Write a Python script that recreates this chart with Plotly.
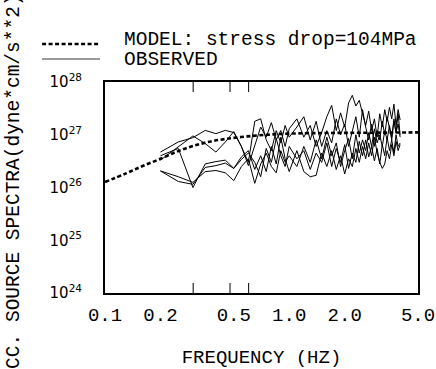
import math
import plotly.graph_objects as go

# ---------------- data ----------------
model_freq = [0.10, 0.13, 0.16, 0.20, 0.25, 0.30, 0.37, 0.46, 0.59, 0.76, 1.0, 1.6, 2.4, 3.7, 5.0]
model_val = [1.27, 1.85, 2.55, 3.5, 4.9, 6.1, 7.4, 8.4, 9.3, 10.0, 10.5, 10.8, 10.9, 11.0, 11.1]  # x 1e26

obs_freq = [0.20, 0.25, 0.30, 0.35, 0.40, 0.45, 0.50, 0.55, 0.60,
            0.65, 0.70, 0.75, 0.80, 0.85, 0.90, 0.95, 1.00,
            1.1, 1.2, 1.3, 1.4, 1.5, 1.6, 1.7, 1.8, 1.9, 2.0,
            2.1, 2.2, 2.3, 2.4, 2.5, 2.6, 2.7, 2.8, 2.9, 3.0,
            3.1, 3.2, 3.3, 3.4, 3.5, 3.6, 3.7, 3.8, 3.9, 4.0]

obs1 = [4.7, 7.3, 8.8, 12.1, 10.5, 12.1, 11.0, 6.0, 2.6,
        6.5, 14, 9.0, 17, 8.0, 12, 6.0, 13,
        20, 9, 15, 6, 11, 22, 36, 12, 26, 14,
        40, 56, 35, 45, 25, 15, 28, 12, 20, 9,
        25, 14, 30, 18, 33, 20, 38, 15, 30, 19]
obs2 = [3.3, 5.9, 9.5, 6.8, 4.7, 7.3, 11.5, 6.0, 3.0,
        18, 20, 8, 5, 12, 7, 15, 9,
        14, 22, 8, 18, 6, 12, 7, 20, 10, 16,
        6, 12, 22, 9, 30, 14, 8, 16, 6, 12,
        8, 18, 10, 22, 12, 8, 20, 11, 25, 10]
obs3 = [4.0, 5.5, 1.0, 2.8, 3.1, 3.3, 2.3, 3.4, 4.5,
        3.0, 1.6, 5.5, 3.0, 8.5, 4.0, 2.5, 6.0,
        3.5, 5.0, 2.2, 4.5, 3.0, 7.0, 2.5, 5.5, 3.0, 6.5,
        2.3, 4.5, 3.0, 7.5, 4.0, 8.0, 3.8, 6.0, 3.2, 5.5,
        2.8, 6.5, 4.0, 9.0, 5.0, 8.0, 4.5, 10, 6.0, 7.0]
obs4 = [2.06, 1.3, 1.15, 2.4, 2.6, 2.9, 2.3, 3.8, 5.0,
        2.2, 4.0, 2.0, 6.0, 2.8, 9.0, 3.5, 2.0,
        5.0, 2.0, 1.6, 1.7, 4.5, 2.5, 5.0, 2.2, 4.0, 1.8,
        3.5, 2.5, 5.5, 3.0, 6.0, 3.5, 7.0, 4.0, 9.0, 4.5,
        3.0, 2.3, 2.8, 5.0, 3.5, 6.5, 4.0, 7.5, 5.0, 6.5]
obs5 = [2.06, 1.6, 1.25, 2.0, 2.1, 1.9, 1.35, 2.5, 3.5,
        1.2, 2.8, 4.5, 2.5, 1.9, 5.0, 3.0, 4.0,
        2.5, 6.0, 3.0, 8.0, 3.5, 9.0, 4.0, 7.0, 2.5, 5.0,
        8.5, 3.5, 10, 4.5, 8.0, 5.0, 11, 6.0, 13, 7.0,
        10, 6.0, 12, 8.0, 15, 9.0, 18, 11, 16, 9.0]
observed = [obs1, obs2, obs3, obs4, obs5]
UNIT = 1e26

x_labelvals = [0.1, 0.2, 0.5, 1, 2, 5]
x_labeltext = ["0.1", "0.2", "0.5", "1.0", "2.0", "5.0"]
x_tickvals = [0.2, 0.3, 0.4, 0.5, 0.6, 0.7, 0.8, 0.9, 1, 2, 3, 4]
y_decades = [24, 25, 26, 27, 28]

# ---------------- figure ----------------
MONO = "Courier New, Liberation Mono, monospace"
BLACK = "black"
CLEAR = "rgba(0,0,0,0)"

fig = go.Figure()
for s in observed:
    fig.add_trace(go.Scatter(x=obs_freq, y=[v * UNIT for v in s], mode="lines",
                             line=dict(color=BLACK, width=1), showlegend=False))
fig.add_trace(go.Scatter(x=model_freq, y=[v * UNIT for v in model_val], mode="lines",
                         line=dict(color=BLACK, width=2.6, dash="4px,2.5px", shape="spline"),
                         showlegend=False))

y_tickvals = [10.0 ** d for d in y_decades]
y_ticktext = ["10<sup>%d</sup>" % d for d in y_decades]
y_minor = [k * 10.0 ** d for d in y_decades[:-1] for k in range(2, 10)]

fig.update_layout(
    xaxis=dict(type="log", range=[-1, math.log10(5)], tickmode="array", tickvals=x_labelvals,
               ticktext=x_labeltext, ticks="outside", ticklen=3, tickcolor=CLEAR,
               showline=True, linewidth=2, linecolor=BLACK, mirror=True,
               showgrid=False, zeroline=False,
               tickfont=dict(family=MONO, size=19, color=BLACK),
               title=dict(text="FREQUENCY (HZ)", font=dict(family=MONO, size=19, color=BLACK),
                          standoff=27)),
    yaxis=dict(type="log", range=[24, 28], tickmode="array", tickvals=y_tickvals,
               ticktext=y_ticktext, ticks="outside", ticklen=18, tickcolor=CLEAR,
               showline=True, linewidth=2, linecolor=BLACK, mirror=True,
               showgrid=False, zeroline=False,
               tickfont=dict(family="DejaVu Sans", size=15, color=BLACK),
               title=dict(text="ACC. SOURCE SPECTRA(dyne*cm/s**2)",
                          font=dict(family=MONO, size=19.5, color=BLACK), standoff=25)),
)

# inward tick marks on all four sides (log axes: shape coordinates are log10 values)
tick_line = dict(color=BLACK, width=1)
for v in x_tickvals:
    lx = math.log10(v)
    fig.add_shape(type="line", xref="x", yref="paper", ysizemode="pixel", yanchor=0,
                  x0=lx, x1=lx, y0=0, y1=10, line=tick_line)
    fig.add_shape(type="line", xref="x", yref="paper", ysizemode="pixel", yanchor=1,
                  x0=lx, x1=lx, y0=0, y1=-10, line=tick_line)
for vals, length in ((y_tickvals, 11), (y_minor, 8)):
    for v in vals:
        ly = math.log10(v)
        fig.add_shape(type="line", xref="paper", yref="y", xsizemode="pixel", xanchor=0,
                      x0=0, x1=length, y0=ly, y1=ly, line=tick_line)
        fig.add_shape(type="line", xref="paper", yref="y", xsizemode="pixel", xanchor=1,
                      x0=0, x1=-length, y0=ly, y1=ly, line=tick_line)

# legend drawn in paper coordinates
fig.add_shape(type="line", xref="paper", yref="paper", x0=-0.201, x1=-0.016, y0=1.180, y1=1.180,
              line=dict(color=BLACK, width=2.6, dash="4px,2.5px"))
fig.add_shape(type="line", xref="paper", yref="paper", x0=-0.201, x1=-0.016, y0=1.109, y1=1.109,
              line=dict(color="#777777", width=1.5))
fig.add_annotation(xref="paper", yref="paper", x=0.054, y=1.199, xanchor="left", yanchor="middle",
                   text="MODEL: stress drop=104MPa", showarrow=False,
                   font=dict(family=MONO, size=19.5, color=BLACK))
fig.add_annotation(xref="paper", yref="paper", x=0.054, y=1.104, xanchor="left", yanchor="middle",
                   text="OBSERVED", showarrow=False,
                   font=dict(family=MONO, size=19.5, color=BLACK))

fig.update_layout(width=436, height=369, margin=dict(l=105, r=18, t=82, b=76, autoexpand=False),
                  paper_bgcolor="white", plot_bgcolor="white", showlegend=False)
fig.write_html("out.html", post_script="document.body.style.margin='0px';",
               config={"displayModeBar": False})
